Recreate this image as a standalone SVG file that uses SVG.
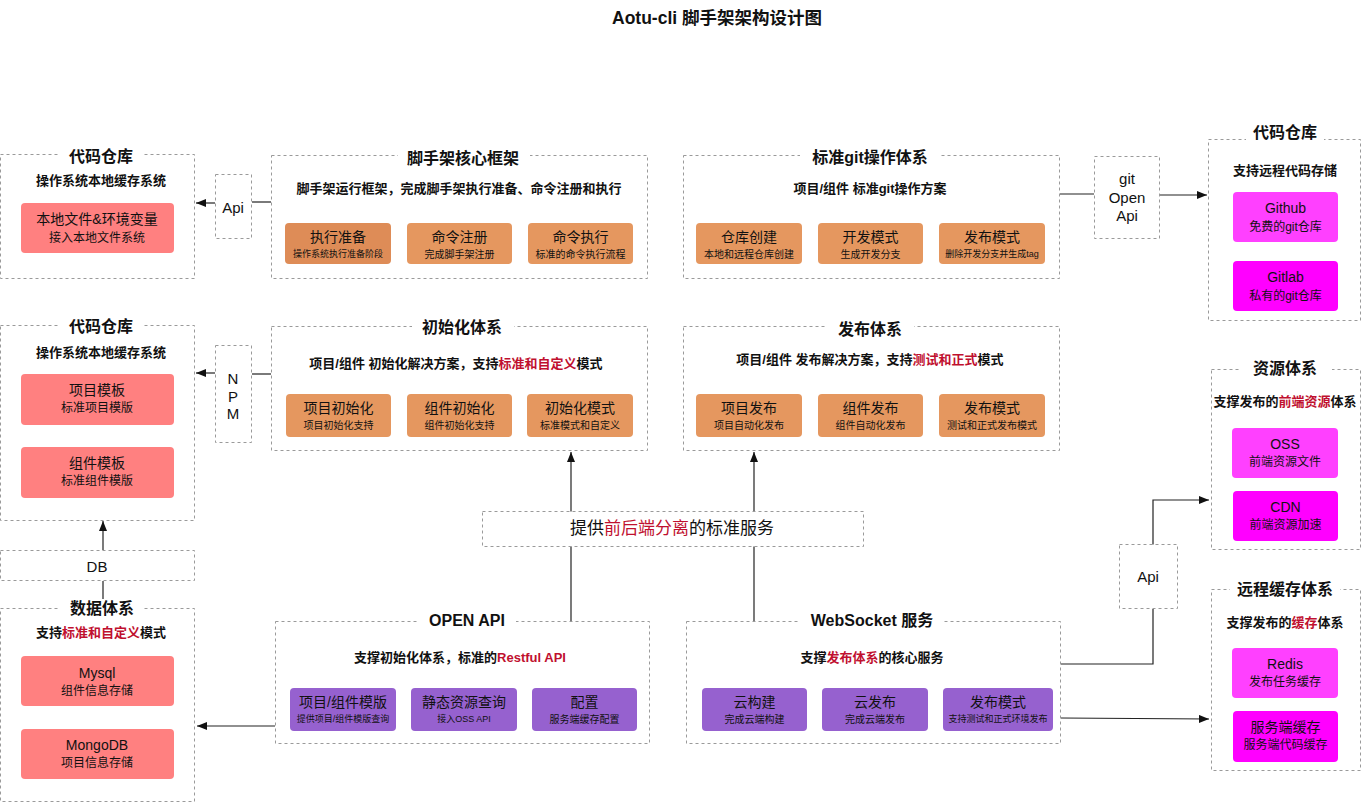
<svg xmlns="http://www.w3.org/2000/svg" width="1362" height="803" viewBox="0 0 1362 803">
<style>
text{font-family:"Liberation Sans","Noto Sans CJK SC",sans-serif;text-anchor:middle;dominant-baseline:central;fill:#111}
.frame{fill:#fff;stroke:#9a9a9a;stroke-width:1;stroke-dasharray:3 3}
.gap{fill:#fff}
.gt{font-size:16px;font-weight:bold}
.st{font-size:13px;font-weight:bold}
.m{font-size:14px}
.s{font-size:10px}
.s9{font-size:9px}
.rt{font-size:12px}
.lbl{font-size:15px}
.red{fill:#FF8080}
.org{fill:#E5975F}
.org1{fill:#DE8C57}
.pur{fill:#9661CF}
.mg1{fill:#FF40FF}
.mg2{fill:#FF00FF}
.hl{fill:#C0102F}
.cn{fill:none;stroke:#222;stroke-width:1.2}
</style>
<defs>
<marker id="ah" viewBox="0 0 10 8" markerWidth="10" markerHeight="8" refX="10" refY="4" orient="auto" markerUnits="userSpaceOnUse"><path d="M0,0 L10,4 L0,8 z" fill="#111"/></marker>
</defs>
<rect width="1362" height="803" fill="#fff"/>
<text x="717" y="18" style="font-size:17.5px;font-weight:bold">Aotu-cli 脚手架架构设计图</text>

<g id="connectors">
<path class="cn" d="M271,202 H252"/>
<path class="cn" d="M215,203 H196" marker-end="url(#ah)"/>
<path class="cn" d="M271,374 H252"/>
<path class="cn" d="M215,373 H196" marker-end="url(#ah)"/>
<path class="cn" d="M1060,194 H1094"/>
<path class="cn" d="M1160,195 H1207" marker-end="url(#ah)"/>
<path class="cn" d="M103,550 V521" marker-end="url(#ah)"/>
<path class="cn" d="M103,608 V581"/>
<path class="cn" d="M571,621 V452" marker-end="url(#ah)"/>
<path class="cn" d="M754,621 V452" marker-end="url(#ah)"/>
<path class="cn" d="M275,726 H197" marker-end="url(#ah)"/>
<path class="cn" d="M1061,664 H1153 V609"/>
<path class="cn" d="M1153,545 V500 H1209" marker-end="url(#ah)"/>
<path class="cn" d="M1061,718 L1209,719" marker-end="url(#ah)"/>
</g>

<g id="local-repo">
<rect class="frame" x="0.5" y="154.5" width="194" height="124"/>
<rect class="gap" x="60" y="146" width="82" height="18"/>
<text class="gt" x="101" y="156">代码仓库</text>
<text class="st" x="101" y="180">操作系统本地缓存系统</text>
<rect class="red" x="21" y="203" width="153" height="50" rx="4"/>
<text class="m" x="97" y="219">本地文件&amp;环境变量</text>
<text class="rt" x="97" y="238">接入本地文件系统</text>
</g>

<g id="template-repo">
<rect class="frame" x="0.5" y="325.5" width="194" height="195"/>
<rect class="gap" x="60" y="317" width="82" height="18"/>
<text class="gt" x="101" y="326">代码仓库</text>
<text class="st" x="101" y="352">操作系统本地缓存系统</text>
<rect class="red" x="21" y="374" width="153" height="51" rx="4"/>
<text class="m" x="97" y="390">项目模板</text>
<text class="rt" x="97" y="408">标准项目模版</text>
<rect class="red" x="21" y="447" width="153" height="51" rx="4"/>
<text class="m" x="97" y="463">组件模板</text>
<text class="rt" x="97" y="481">标准组件模版</text>
</g>

<g id="db">
<rect class="frame" x="0.5" y="550.5" width="194" height="30"/>
<text class="lbl" x="97" y="566">DB</text>
</g>

<g id="data">
<rect class="frame" x="0.5" y="608.5" width="194" height="193"/>
<rect class="gap" x="60" y="599" width="84" height="18"/>
<text class="gt" x="102" y="608">数据体系</text>
<text class="st" x="101" y="632">支持<tspan class="hl">标准和自定义</tspan>模式</text>
<rect class="red" x="21" y="656" width="153" height="50" rx="4"/>
<text class="m" x="97" y="673">Mysql</text>
<text class="rt" x="97" y="691">组件信息存储</text>
<rect class="red" x="21" y="729" width="153" height="50" rx="4"/>
<text class="m" x="97" y="745">MongoDB</text>
<text class="rt" x="97" y="763">项目信息存储</text>
</g>

<g id="api-local">
<rect class="frame" x="215.5" y="174.5" width="36" height="64"/>
<text class="lbl" x="233" y="207">Api</text>
</g>

<g id="npm">
<rect class="frame" x="215.5" y="345.5" width="36" height="97"/>
<text class="lbl" x="233" y="378">N</text>
<text class="lbl" x="233" y="396">P</text>
<text class="lbl" x="233" y="413">M</text>
</g>

<g id="core">
<rect class="frame" x="271.5" y="155.5" width="376" height="123"/>
<rect class="gap" x="398" y="147" width="132" height="18"/>
<text class="gt" x="463" y="158">脚手架核心框架</text>
<text class="st" x="459" y="188">脚手架运行框架，完成脚手架执行准备、命令注册和执行</text>
<rect class="org1" x="285" y="223" width="106" height="41" rx="4"/>
<text class="m" x="338" y="237">执行准备</text>
<text class="s9" x="338" y="254">操作系统执行准备阶段</text>
<rect class="org" x="407" y="223" width="105" height="41" rx="4"/>
<text class="m" x="459.5" y="237">命令注册</text>
<text class="s" x="459.5" y="254">完成脚手架注册</text>
<rect class="org" x="528" y="223" width="105" height="41" rx="4"/>
<text class="m" x="580.5" y="237">命令执行</text>
<text class="s" x="580.5" y="254">标准的命令执行流程</text>
</g>

<g id="git">
<rect class="frame" x="683.5" y="155.5" width="376" height="123"/>
<rect class="gap" x="800" y="147" width="140" height="18"/>
<text class="gt" x="870" y="157">标准git操作体系</text>
<text class="st" x="870" y="188">项目/组件 标准git操作方案</text>
<rect class="org" x="696" y="223" width="106" height="41" rx="4"/>
<text class="m" x="749" y="237">仓库创建</text>
<text class="s" x="749" y="254">本地和远程仓库创建</text>
<rect class="org" x="818" y="223" width="105" height="41" rx="4"/>
<text class="m" x="870.5" y="237">开发模式</text>
<text class="s" x="870.5" y="254">生成开发分支</text>
<rect class="org" x="939" y="223" width="106" height="41" rx="4"/>
<text class="m" x="992" y="237">发布模式</text>
<text class="s9" x="992" y="254">删除开发分支并生成tag</text>
</g>

<g id="git-open-api">
<rect class="frame" x="1094.5" y="156.5" width="65" height="82"/>
<text class="lbl" x="1127" y="178">git</text>
<text class="lbl" x="1127" y="197">Open</text>
<text class="lbl" x="1127" y="215">Api</text>
</g>

<g id="remote-repo">
<rect class="frame" x="1208.5" y="139.5" width="152" height="181"/>
<rect class="gap" x="1246" y="124" width="78" height="20"/>
<text class="gt" x="1285" y="132">代码仓库</text>
<text class="st" x="1285" y="170">支持远程代码存储</text>
<rect class="mg1" x="1233" y="192" width="105" height="50" rx="4"/>
<text class="m" x="1285.5" y="208">Github</text>
<text class="rt" x="1285.5" y="227">免费的git仓库</text>
<rect class="mg2" x="1233" y="261" width="105" height="50" rx="4"/>
<text class="m" x="1285.5" y="277">Gitlab</text>
<text class="rt" x="1285.5" y="296">私有的git仓库</text>
</g>

<g id="init">
<rect class="frame" x="271.5" y="326.5" width="376" height="124"/>
<rect class="gap" x="412" y="318" width="102" height="18"/>
<text class="gt" x="462" y="327">初始化体系</text>
<text class="st" x="456" y="363">项目/组件 初始化解决方案，支持<tspan class="hl">标准和自定义</tspan>模式</text>
<rect class="org" x="286" y="394" width="105" height="43" rx="4"/>
<text class="m" x="338.5" y="408">项目初始化</text>
<text class="s" x="338.5" y="425">项目初始化支持</text>
<rect class="org" x="407" y="394" width="105" height="43" rx="4"/>
<text class="m" x="459.5" y="408">组件初始化</text>
<text class="s" x="459.5" y="425">组件初始化支持</text>
<rect class="org" x="527" y="394" width="106" height="43" rx="4"/>
<text class="m" x="580" y="408">初始化模式</text>
<text class="s" x="580" y="425">标准模式和自定义</text>
</g>

<g id="publish">
<rect class="frame" x="683.5" y="326.5" width="376" height="124"/>
<rect class="gap" x="826" y="318" width="88" height="18"/>
<text class="gt" x="870" y="329">发布体系</text>
<text class="st" x="870" y="359">项目/组件 发布解决方案，支持<tspan class="hl">测试和正式</tspan>模式</text>
<rect class="org" x="696" y="394" width="106" height="43" rx="4"/>
<text class="m" x="749" y="408">项目发布</text>
<text class="s" x="749" y="425">项目自动化发布</text>
<rect class="org" x="818" y="394" width="105" height="43" rx="4"/>
<text class="m" x="870.5" y="408">组件发布</text>
<text class="s" x="870.5" y="425">组件自动化发布</text>
<rect class="org" x="939" y="394" width="106" height="43" rx="4"/>
<text class="m" x="992" y="408">发布模式</text>
<text class="s" x="992" y="425">测试和正式发布模式</text>
</g>

<g id="standard-service">
<rect class="frame" x="482.5" y="511.5" width="381" height="35"/>
<text x="672" y="528" style="font-size:17px">提供<tspan class="hl">前后端分离</tspan>的标准服务</text>
</g>

<g id="open-api">
<rect class="frame" x="275.5" y="621.5" width="374" height="122"/>
<rect class="gap" x="418" y="612" width="98" height="18"/>
<text class="gt" x="467" y="620">OPEN API</text>
<text class="st" x="460" y="657">支撑初始化体系，标准的<tspan class="hl">Restful API</tspan></text>
<rect class="pur" x="290" y="688" width="106" height="43" rx="4"/>
<text class="m" x="343" y="702">项目/组件模版</text>
<text class="s9" x="343" y="719">提供项目/组件模版查询</text>
<rect class="pur" x="411" y="688" width="106" height="43" rx="4"/>
<text class="m" x="464" y="702">静态资源查询</text>
<text class="s9" x="464" y="719">接入OSS API</text>
<rect class="pur" x="532" y="688" width="105" height="43" rx="4"/>
<text class="m" x="584.5" y="702">配置</text>
<text class="s" x="584.5" y="719">服务端缓存配置</text>
</g>

<g id="websocket">
<rect class="frame" x="686.5" y="621.5" width="374" height="122"/>
<rect class="gap" x="800" y="612" width="144" height="18"/>
<text class="gt" x="872" y="620">WebSocket 服务</text>
<text class="st" x="872" y="657">支撑<tspan class="hl">发布体系</tspan>的核心服务</text>
<rect class="pur" x="702" y="688" width="105" height="43" rx="4"/>
<text class="m" x="754.5" y="702">云构建</text>
<text class="s" x="754.5" y="719">完成云端构建</text>
<rect class="pur" x="822" y="688" width="106" height="43" rx="4"/>
<text class="m" x="875" y="702">云发布</text>
<text class="s" x="875" y="719">完成云端发布</text>
<rect class="pur" x="943" y="688" width="110" height="43" rx="4"/>
<text class="m" x="998" y="702">发布模式</text>
<text class="s9" x="998" y="719">支持测试和正式环境发布</text>
</g>

<g id="api-ws">
<rect class="frame" x="1119.5" y="544.5" width="58" height="64"/>
<text class="lbl" x="1148" y="576">Api</text>
</g>

<g id="resource">
<rect class="frame" x="1211.5" y="369.5" width="149" height="180"/>
<rect class="gap" x="1240" y="359" width="92" height="18"/>
<text class="gt" x="1285" y="368">资源体系</text>
<text class="st" x="1285" y="401">支撑发布的<tspan class="hl">前端资源</tspan>体系</text>
<rect class="mg1" x="1232" y="428" width="106" height="50" rx="4"/>
<text class="m" x="1285" y="444">OSS</text>
<text class="rt" x="1285" y="462">前端资源文件</text>
<rect class="mg2" x="1233" y="491" width="105" height="50" rx="4"/>
<text class="m" x="1285.5" y="507">CDN</text>
<text class="rt" x="1285.5" y="525">前端资源加速</text>
</g>

<g id="remote-cache">
<rect class="frame" x="1211.5" y="589.5" width="149" height="181"/>
<rect class="gap" x="1230" y="580" width="110" height="18"/>
<text class="gt" x="1285" y="589">远程缓存体系</text>
<text class="st" x="1285" y="622">支撑发布的<tspan class="hl">缓存</tspan>体系</text>
<rect class="mg1" x="1232" y="648" width="106" height="50" rx="4"/>
<text class="m" x="1285" y="664">Redis</text>
<text class="rt" x="1285" y="682">发布任务缓存</text>
<rect class="mg2" x="1233" y="711" width="105" height="51" rx="4"/>
<text class="m" x="1285.5" y="727">服务端缓存</text>
<text class="rt" x="1285.5" y="745">服务端代码缓存</text>
</g>
</svg>
